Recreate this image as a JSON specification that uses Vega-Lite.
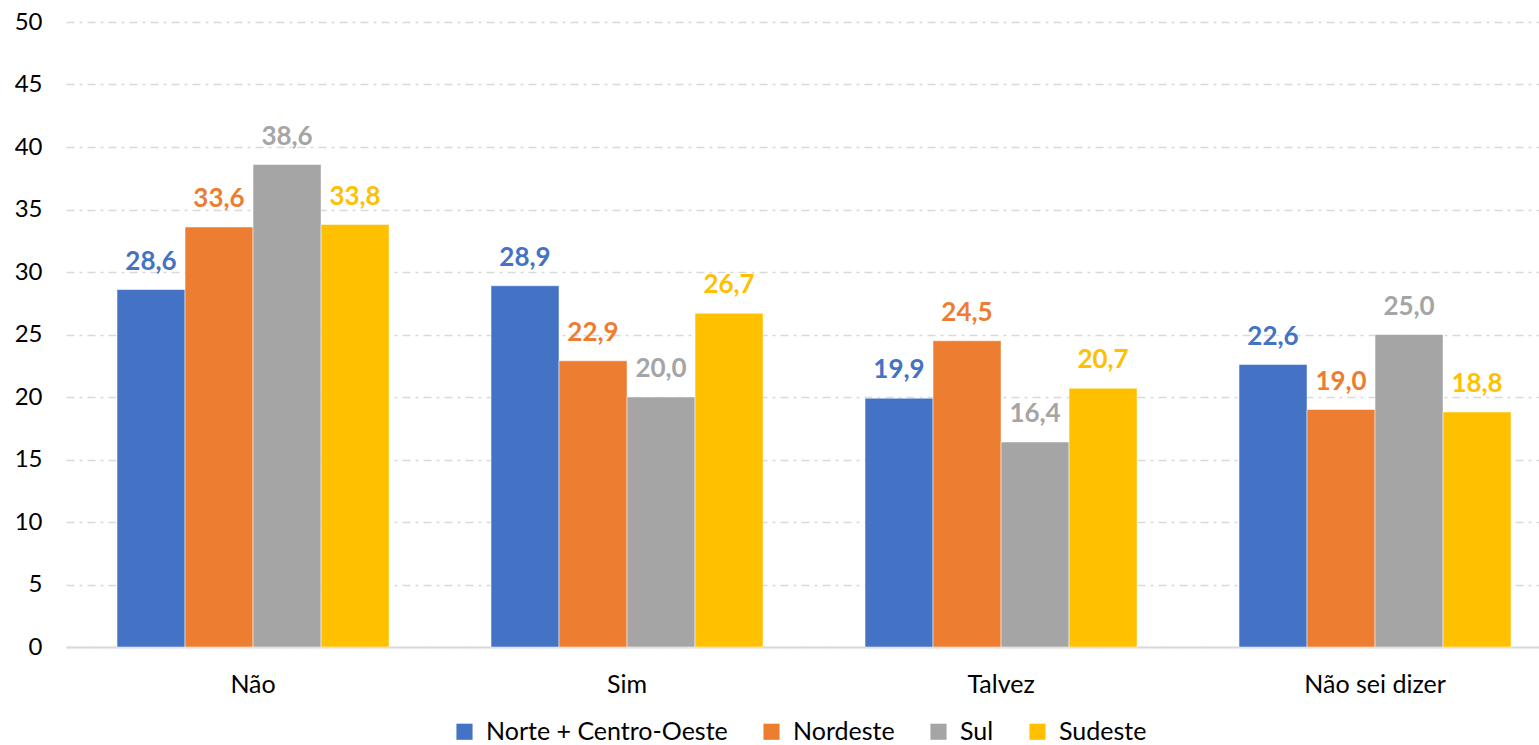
{
  "$schema": "https://vega.github.io/schema/vega-lite/v6.json",
  "width": 1473,
  "height": 625,
  "autosize": "none",
  "padding": {"left": 66, "top": 22, "right": 0, "bottom": 98},
  "data": {
    "values": [
      {"cat": "Não", "reg": "Norte + Centro-Oeste", "v": 28.6},
      {"cat": "Não", "reg": "Nordeste", "v": 33.6},
      {"cat": "Não", "reg": "Sul", "v": 38.6},
      {"cat": "Não", "reg": "Sudeste", "v": 33.8},
      {"cat": "Sim", "reg": "Norte + Centro-Oeste", "v": 28.9},
      {"cat": "Sim", "reg": "Nordeste", "v": 22.9},
      {"cat": "Sim", "reg": "Sul", "v": 20.0},
      {"cat": "Sim", "reg": "Sudeste", "v": 26.7},
      {"cat": "Talvez", "reg": "Norte + Centro-Oeste", "v": 19.9},
      {"cat": "Talvez", "reg": "Nordeste", "v": 24.5},
      {"cat": "Talvez", "reg": "Sul", "v": 16.4},
      {"cat": "Talvez", "reg": "Sudeste", "v": 20.7},
      {"cat": "Não sei dizer", "reg": "Norte + Centro-Oeste", "v": 22.6},
      {"cat": "Não sei dizer", "reg": "Nordeste", "v": 19.0},
      {"cat": "Não sei dizer", "reg": "Sul", "v": 25.0},
      {"cat": "Não sei dizer", "reg": "Sudeste", "v": 18.8}
    ]
  },
  "encoding": {
    "x": {
      "field": "cat", "type": "nominal", "sort": ["Não", "Sim", "Talvez", "Não sei dizer"],
      "title": null,
      "scale": {"paddingInner": 0.2727, "paddingOuter": 0.1056, "align": 0.646},
      "axis": {"labelAngle": 0, "ticks": false, "domainColor": "#d9d9d9", "domainWidth": 2, "labelPadding": 25, "labelFontSize": 25, "labelColor": "#000000", "labelFont": "Lato"}
    },
    "xOffset": {"field": "reg", "type": "nominal", "sort": ["Norte + Centro-Oeste", "Nordeste", "Sul", "Sudeste"], "scale": {"paddingInner": 0, "paddingOuter": 0}},
    "y": {
      "field": "v", "type": "quantitative", "title": null,
      "scale": {"domain": [0, 50]},
      "axis": {"values": [0, 5, 10, 15, 20, 25, 30, 35, 40, 45, 50], "domain": false, "ticks": false, "labelPadding": 24, "labelFontSize": 24, "labelColor": "#000000", "labelFont": "Lato", "gridColor": "#d9d9d9", "gridDash": [8, 5, 3, 5], "gridWidth": 1.3}
    },
    "color": {
      "field": "reg", "type": "nominal", "sort": ["Norte + Centro-Oeste", "Nordeste", "Sul", "Sudeste"],
      "scale": {"domain": ["Norte + Centro-Oeste", "Nordeste", "Sul", "Sudeste"], "range": ["#4472c4", "#ed7d31", "#a5a5a5", "#ffc000"]},
      "legend": {"orient": "none", "legendX": 386, "legendY": 697, "direction": "horizontal", "title": null, "symbolType": "square", "symbolSize": 260, "symbolStrokeWidth": 0, "labelFontSize": 25, "labelFont": "Lato", "labelColor": "#000000", "labelLimit": 400, "columnPadding": 31, "labelOffset": 9}
    }
  },
  "layer": [
    {"mark": {"type": "bar", "stroke": "#ffffff", "strokeWidth": 0.5}},
    {"mark": {"type": "text", "baseline": "alphabetic", "dy": -20, "fontSize": 26, "fontWeight": "bold", "font": "Lato"},
     "encoding": {"text": {"field": "v", "type": "quantitative", "format": ".1f"}}}
  ],
  "config": {
    "view": {"stroke": null},
    "locale": {"number": {"decimal": ",", "thousands": ".", "grouping": [3], "currency": ["R$", ""]}}
  }
}
